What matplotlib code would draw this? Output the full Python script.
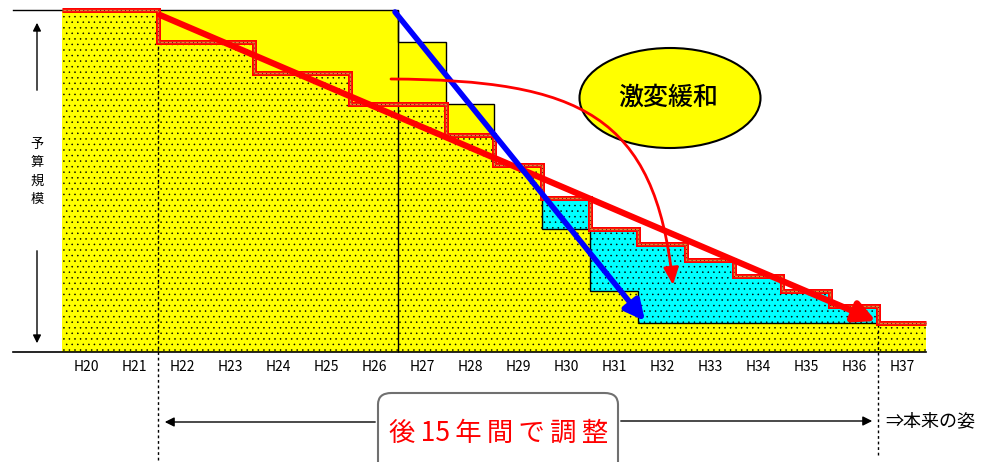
import numpy as np
import matplotlib
matplotlib.use('Agg')
import matplotlib.pyplot as plt
from matplotlib.patches import Ellipse, FancyArrowPatch, FancyBboxPatch
from matplotlib.path import Path

plt.rcParams['font.family'] = ['Noto Sans CJK JP', 'DejaVu Sans']
plt.rcParams['hatch.linewidth'] = 0.35
plt.rcParams['hatch.color'] = 'black'

# 年度
years = ['H20', 'H21', 'H22', 'H23', 'H24', 'H25', 'H26', 'H27', 'H28',
         'H29', 'H30', 'H31', 'H32', 'H33', 'H34', 'H35', 'H36', 'H37']
# 本来の減少 (急減)
original = [100, 100, 100, 100, 100, 100, 100, 90.6, 72.5,
            54.7, 36.0, 17.8, 8.5, 8.5, 8.5, 8.5, 8.5, 8.5]
# 激変緩和後 (15年間で調整)
adjusted = [100, 100, 90.6, 90.6, 81.6, 81.6, 72.5, 72.5, 63.5,
            54.7, 45.0, 36.0, 31.6, 26.9, 22.2, 17.8, 13.5, 8.5]

original = np.array(original)
adjusted = np.array(adjusted)
x = np.arange(len(years))
edges = np.arange(len(years) + 1)

# 画像ピクセル -> データ座標
def px(u, v):
    return ((u - 62) / 48.0, (352 - v) / 3.42)

fig = plt.figure(figsize=(10, 4.62), dpi=100)
ax = fig.add_axes([0, 0, 1, 1])
ax.set_xlim(px(0, 0)[0], px(1000, 0)[0])
ax.set_ylim(px(0, 462)[1], px(0, 0)[1])
ax.axis('off')

yellow = '#ffff00'
cyan = '#00ffff'

low = np.minimum(original, adjusted)
extra = np.maximum(adjusted - original, 0)
ax.bar(x, original, width=1, align='edge', color=yellow, linewidth=0, zorder=1)
ax.bar(x, low, width=1, align='edge', color=yellow, edgecolor='black',
       linewidth=0, hatch='...', zorder=2)
ax.bar(x, extra, bottom=original, width=1, align='edge', color=cyan,
       edgecolor='black', linewidth=0, hatch='...', zorder=2)

# 本来の姿の輪郭
ax.stairs(original, edges, baseline=None, color='black', lw=1, zorder=3)
ax.vlines(7, 0, 100, color='black', lw=1, zorder=3)
x0 = px(13, 0)[0]
ax.plot([x0, 0], [100, 100], color='black', lw=1, zorder=3)
ax.plot([x0, len(years)], [0, 0], color='black', lw=1.2, zorder=3)

# 点線
ax.vlines(2, px(0, 460)[1], adjusted[2], color='black', lw=1,
          linestyles=(0, (2, 2)), zorder=3)
ax.vlines(17, px(0, 455)[1], adjusted[16], color='black', lw=1,
          linestyles=(0, (2, 2)), zorder=3)

# 激変緩和後の輪郭
ax.stairs(adjusted, edges, baseline=None, color='red', lw=3.6, zorder=4)
ax.stairs(adjusted, edges, baseline=None, color='#e08a3a', lw=1.0, zorder=4)
ax.stairs(adjusted, edges, baseline=None, color='#400000', lw=0.6,
          linestyle=(0, (1, 4)), zorder=4)

# 矢印
ax.add_patch(FancyArrowPatch(px(160, 15), px(876, 321),
                             arrowstyle='-|>,head_length=0.7,head_width=0.35',
                             mutation_scale=18, color='red', lw=4.5,
                             shrinkA=0, shrinkB=0, zorder=5))
ax.add_patch(FancyArrowPatch(px(395, 12), px(645, 321),
                             arrowstyle='-|>,head_length=0.7,head_width=0.35',
                             mutation_scale=17, color='#0000ff', lw=4,
                             shrinkA=0, shrinkB=0, zorder=5))

ell = Ellipse(px(670, 98), 181 / 48.0, 100 / 3.42, facecolor=yellow,
              edgecolor='black', lw=1.5, zorder=6)
ax.add_patch(ell)
ax.text(*px(668, 98), '激変緩和', fontsize=18, ha='center', va='center',
        fontweight='medium', zorder=7)

curve = Path([px(391, 79), px(580, 80), px(655, 115), px(673, 285)],
             [Path.MOVETO, Path.CURVE4, Path.CURVE4, Path.CURVE4])
ax.add_patch(FancyArrowPatch(path=curve, arrowstyle='-|>,head_length=0.8,head_width=0.35',
                             mutation_scale=13, color='red', lw=2, zorder=8))

# 縦軸の説明
ax.annotate('', xy=px(37, 20), xytext=px(37, 93),
            arrowprops=dict(arrowstyle='-|>', color='black', lw=1, mutation_scale=12))
ax.annotate('', xy=px(37, 346), xytext=px(37, 248),
            arrowprops=dict(arrowstyle='-|>', color='black', lw=1, mutation_scale=12))
ax.text(*px(37, 172), '予\n算\n規\n模', fontsize=9.5, ha='center', va='center',
        linespacing=1.55)

# 年度ラベル
for i, lab in enumerate(years):
    ax.text(i + 0.5, px(0, 367)[1], lab, fontsize=10, ha='center', va='center')

# 下部の説明
bx0, by0 = px(378, 393)
bx1, _ = px(618, 0)
box = FancyBboxPatch((bx0, by0 - 40), bx1 - bx0, 40,
                     boxstyle='round,pad=0,rounding_size=0.28', mutation_aspect=12,
                     facecolor='white', edgecolor='#707070', lw=1.5, zorder=3)
ax.add_patch(box)
ax.text(*px(499, 433), '後 15 年 間 で 調 整'.replace(' ', '\u2009'), fontsize=19,
        color='red', ha='center', va='center', zorder=4)
ax.annotate('', xy=px(162, 422), xytext=px(378, 422),
            arrowprops=dict(arrowstyle='-|>', color='black', lw=1, mutation_scale=14))
ax.annotate('', xy=px(875, 421), xytext=px(618, 421),
            arrowprops=dict(arrowstyle='-|>', color='black', lw=1, mutation_scale=14))
ax.text(*px(885, 421), '⇒本来の姿', fontsize=13, ha='left', va='center')

fig.savefig('out.png', dpi=100)
